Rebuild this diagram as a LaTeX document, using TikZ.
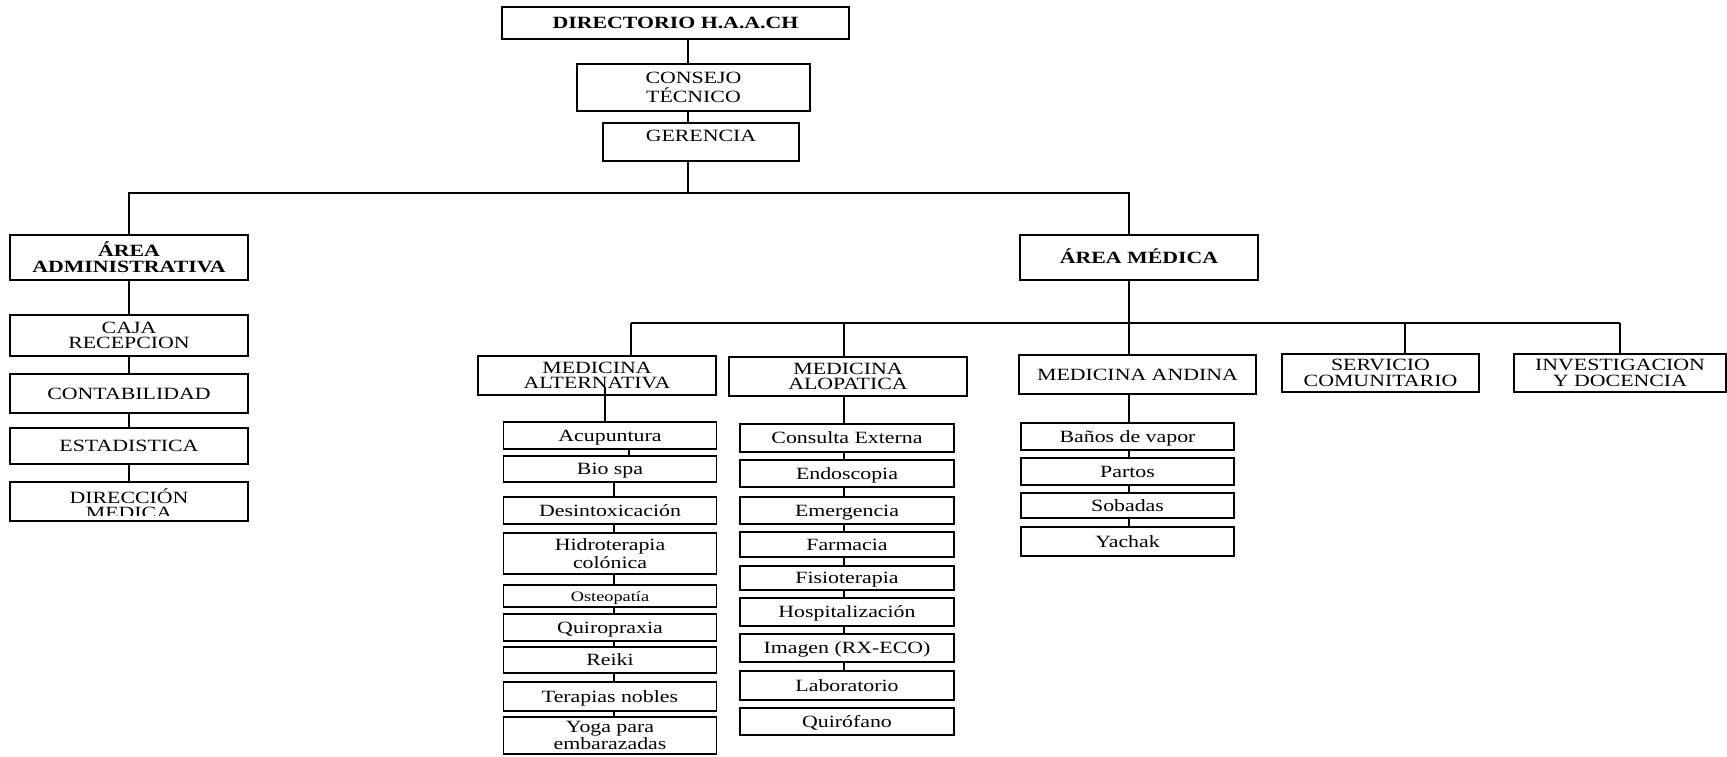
\documentclass[tikz,border=0pt]{standalone}
\usepackage{fontspec}
\setmainfont{Liberation Serif}[FakeStretch=1.27]
\newcommand\boxfont{\fontsize{8.6}{7.8}\selectfont}
\newcommand\smallboxfont{\fontsize{7.2}{7.2}\selectfont}

\begin{document}
\begin{tikzpicture}[x=0.5pt, y=-0.5pt,
        box/.style={draw, line width=0.75pt, inner sep=0pt, align=center, font=\boxfont},
        boxsize/.style 2 args={minimum width=#1*0.5pt, minimum height=#2*0.5pt},
        oneline/.style={text height=5.7pt, text depth=0pt},
        link/.style={line width=0.6pt}]
        \useasboundingbox (0,0) rectangle (1727,756);

        \node[box, oneline, boxsize={347}{32}, font=\boxfont\bfseries] (dir) at (675.5,23) {DIRECTORIO H.A.A.CH};
        \node[box, boxsize={233}{47}, font=\fontsize{8.6}{9.2}\selectfont] (con) at (693.5,87.5) {CONSEJO\\TÉCNICO};
        \node[box, oneline, text depth=6pt, boxsize={196}{38}] (ger) at (701,142) {GERENCIA};
        \node[box, boxsize={238}{45}, font=\boxfont\bfseries] (adm) at (129,257.5) {ÁREA\\ADMINISTRATIVA};
        \node[box, oneline, boxsize={238}{45}, font=\boxfont\bfseries] (med) at (1139,257.5) {ÁREA MÉDICA};

        \node[box, boxsize={238}{41}] (caja) at (129,335.5) {CAJA\\RECEPCION};
        \node[box, oneline, boxsize={238}{39}] (cont) at (129,393.5) {CONTABILIDAD};
        \node[box, oneline, boxsize={238}{36}] (est) at (129,446) {ESTADISTICA};
        \node[box, boxsize={238}{39}, path picture={
                \clip (path picture bounding box.north west) rectangle ([yshift=3pt]path picture bounding box.south east);
                \node[font=\boxfont, align=center, inner sep=0pt] at ([yshift=-1pt]path picture bounding box.center) {DIRECCIÓN\\MEDICA};
            }] (dirm) at (129,501.5) {};

        \node[box, boxsize={238}{39}] (medalt) at (597,375.5) {MEDICINA\\ALTERNATIVA};
        \node[box, boxsize={238}{39}] (medalop) at (848,376.5) {MEDICINA\\ALOPATICA};
        \node[box, oneline, boxsize={237}{39}] (medand) at (1137.5,374.5) {MEDICINA ANDINA};
        \node[box, boxsize={197}{38}] (serv) at (1380.5,373) {SERVICIO\\COMUNITARIO};
        \node[box, boxsize={212}{38}] (inv) at (1620,373) {INVESTIGACION\\Y DOCENCIA};

        \node[box, oneline, boxsize={213}{27}] (acup) at (610,435.5) {Acupuntura};
        \node[box, oneline, boxsize={213}{26}] (bio) at (610,469) {Bio spa};
        \node[box, oneline, boxsize={213}{27}] (desi) at (610,510.5) {Desintoxicación};
        \node[box, boxsize={213}{41}] (hidro) at (610,553.5) {Hidroterapia\\colónica};
        \node[box, oneline, boxsize={213}{22}, font=\smallboxfont] (oste) at (610,596) {Osteopatía};
        \node[box, oneline, boxsize={213}{27}] (quiro) at (610,627.5) {Quiropraxia};
        \node[box, oneline, boxsize={213}{26}] (reiki) at (610,660) {Reiki};
        \node[box, oneline, boxsize={213}{29}] (tera) at (610,696.5) {Terapias nobles};
        \node[box, boxsize={213}{37}] (yoga) at (610,735.5) {Yoga para\\embarazadas};

        \node[box, oneline, boxsize={214}{28}] (cons) at (847,438) {Consulta Externa};
        \node[box, oneline, boxsize={214}{27}] (endo) at (847,473.5) {Endoscopia};
        \node[box, oneline, boxsize={214}{27}] (emer) at (847,510.5) {Emergencia};
        \node[box, oneline, boxsize={214}{25}] (farm) at (847,544.5) {Farmacia};
        \node[box, oneline, boxsize={214}{24}] (fisio) at (847,578) {Fisioterapia};
        \node[box, oneline, boxsize={214}{28}] (hosp) at (847,612) {Hospitalización};
        \node[box, oneline, boxsize={214}{28}] (imag) at (847,648) {Imagen (RX-ECO)};
        \node[box, oneline, boxsize={214}{29}] (lab) at (847,685.5) {Laboratorio};
        \node[box, oneline, boxsize={214}{27}] (quir) at (847,721.5) {Quirófano};

        \node[box, oneline, boxsize={213}{27}] (bano) at (1127.5,436.5) {Baños de vapor};
        \node[box, oneline, boxsize={213}{27}] (part) at (1127.5,471.5) {Partos};
        \node[box, oneline, boxsize={213}{25}] (soba) at (1127.5,505.5) {Sobadas};
        \node[box, oneline, boxsize={213}{29}] (yach) at (1127.5,541.5) {Yachak};

        % trunk and first bus
        \coordinate (trunk) at (688,193);
        \coordinate (busadm) at (129,193);
        \coordinate (busmed) at (1129,193);
        \draw[link] (dir.south -| trunk) -- (con.north -| trunk);
        \draw[link] (con.south -| trunk) -- (ger.north -| trunk);
        \draw[link] (ger.south -| trunk) -- (trunk);
        \draw[link] (adm.north) -- (busadm) -- (busmed) -- (busmed |- med.north);

        % administrative column
        \draw[link] (adm.south) -- (caja.north);
        \draw[link] (caja.south) -- (cont.north);
        \draw[link] (cont.south) -- (est.north);
        \draw[link] (est.south) -- (dirm.north);

        % second bus
        \coordinate (busalt) at (631,323);
        \coordinate (busalop) at (844,323);
        \coordinate (busand) at (1129,323);
        \coordinate (busserv) at (1405,323);
        \coordinate (businv) at (1620,323);
        \draw[link] (busmed |- med.south) -- (busand);
        \draw[link] (busalt) -- (businv);
        \draw[link] (busalt) -- (busalt |- medalt.north);
        \draw[link] (busalop) -- (busalop |- medalop.north);
        \draw[link] (busand) -- (busand |- medand.north);
        \draw[link] (busserv) -- (busserv |- serv.north);
        \draw[link] (businv) -- (businv |- inv.north);

        % medicina alternativa
        \coordinate (altin) at (605,387);
        \coordinate (acupx) at (629,0);
        \coordinate (altx) at (614,0);
        \draw[link] (altin) -- (altin |- acup.north);
        \draw[link] (acup.south -| acupx) -- (bio.north -| acupx);
        \draw[link] (bio.south -| altx) -- (desi.north -| altx);
        \draw[link] (desi.south -| altx) -- (hidro.north -| altx);
        \draw[link] (hidro.south -| altx) -- (oste.north -| altx);
        \draw[link] (oste.south -| altx) -- (quiro.north -| altx);
        \draw[link] (quiro.south -| altx) -- (reiki.north -| altx);
        \draw[link] (reiki.south -| altx) -- (tera.north -| altx);
        \draw[link] (tera.south -| altx) -- (yoga.north -| altx);

        % medicina alopatica
        \draw[link] (medalop.south -| busalop) -- (cons.north -| busalop);
        \draw[link] (cons.south -| busalop) -- (endo.north -| busalop);
        \draw[link] (endo.south -| busalop) -- (emer.north -| busalop);
        \draw[link] (emer.south -| busalop) -- (farm.north -| busalop);
        \draw[link] (farm.south -| busalop) -- (fisio.north -| busalop);
        \draw[link] (fisio.south -| busalop) -- (hosp.north -| busalop);
        \draw[link] (hosp.south -| busalop) -- (imag.north -| busalop);
        \draw[link] (imag.south -| busalop) -- (lab.north -| busalop);

        % medicina andina
        \draw[link] (medand.south -| busand) -- (bano.north -| busand);
        \draw[link] (bano.south -| busand) -- (part.north -| busand);
        \draw[link] (part.south -| busand) -- (soba.north -| busand);
        \draw[link] (soba.south -| busand) -- (yach.north -| busand);
\end{tikzpicture}
\end{document}
